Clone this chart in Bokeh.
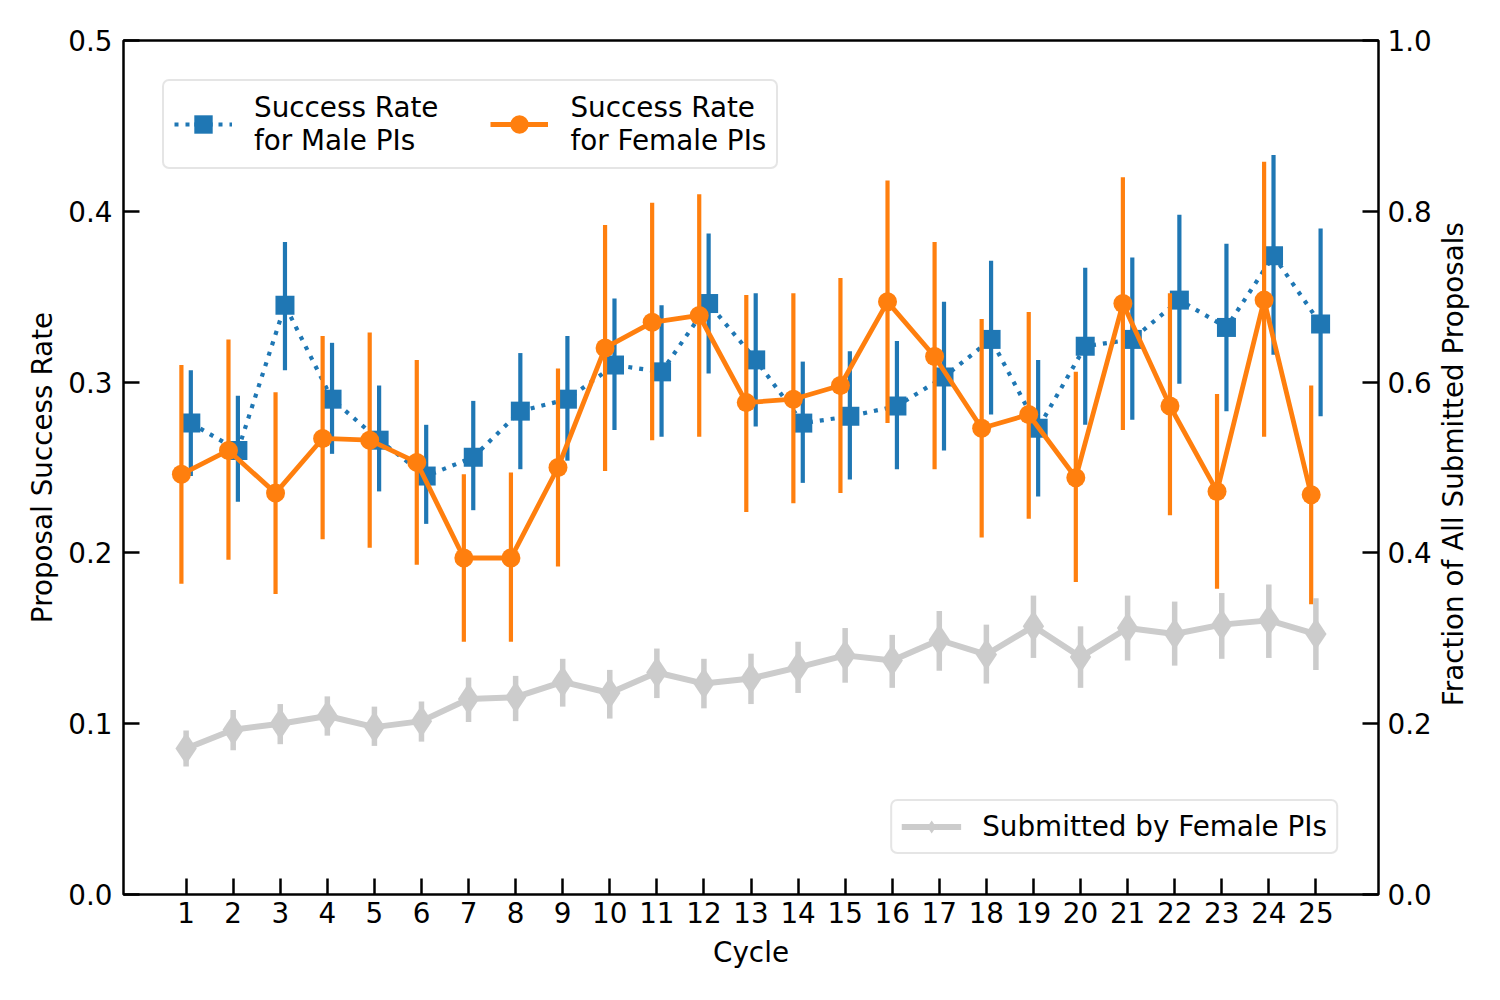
import numpy as np
from bokeh.plotting import figure
from bokeh.layouts import row
from bokeh.core.properties import value
from bokeh.models import (ColumnDataSource, Range1d, LinearAxis, FixedTicker,
                          PrintfTickFormatter, Legend, LegendItem)
from bokeh.embed import file_html
from bokeh.resources import INLINE

# ---------------- data ----------------
cycles = list(range(1, 26))

male_rate = [0.276, 0.260, 0.345, 0.290, 0.266, 0.245, 0.256, 0.283, 0.290, 0.310,
             0.306, 0.346, 0.313, 0.276, 0.280, 0.286, 0.303, 0.325, 0.273, 0.321,
             0.325, 0.348, 0.332, 0.374, 0.334]
male_hi = [0.307, 0.292, 0.382, 0.323, 0.298, 0.275, 0.289, 0.317, 0.327, 0.349,
           0.345, 0.387, 0.352, 0.312, 0.318, 0.324, 0.347, 0.371, 0.313, 0.367,
           0.373, 0.398, 0.381, 0.433, 0.390]
male_lo = [0.245, 0.230, 0.307, 0.258, 0.236, 0.217, 0.225, 0.249, 0.254, 0.272,
           0.268, 0.305, 0.274, 0.241, 0.243, 0.249, 0.260, 0.281, 0.233, 0.275,
           0.278, 0.299, 0.283, 0.316, 0.280]

female_rate = [0.246, 0.260, 0.235, 0.267, 0.266, 0.253, 0.197, 0.197, 0.250, 0.320,
               0.335, 0.339, 0.288, 0.290, 0.298, 0.347, 0.315, 0.273, 0.281, 0.244,
               0.346, 0.286, 0.236, 0.348, 0.234]
female_hi = [0.310, 0.325, 0.294, 0.327, 0.329, 0.313, 0.246, 0.247, 0.308, 0.392,
             0.405, 0.410, 0.351, 0.352, 0.361, 0.418, 0.382, 0.337, 0.341, 0.306,
             0.420, 0.352, 0.293, 0.429, 0.298]
female_lo = [0.182, 0.196, 0.176, 0.208, 0.203, 0.193, 0.148, 0.148, 0.192, 0.248,
             0.266, 0.268, 0.224, 0.229, 0.235, 0.276, 0.249, 0.209, 0.220, 0.183,
             0.272, 0.222, 0.179, 0.268, 0.170]

frac = [0.171, 0.193, 0.200, 0.209, 0.196, 0.203, 0.229, 0.231, 0.249, 0.236,
        0.260, 0.247, 0.253, 0.266, 0.280, 0.274, 0.298, 0.281, 0.314, 0.278,
        0.312, 0.305, 0.316, 0.321, 0.305]
frac_hi = [0.192, 0.216, 0.223, 0.232, 0.220, 0.226, 0.254, 0.256, 0.276, 0.263,
           0.288, 0.276, 0.282, 0.296, 0.312, 0.304, 0.332, 0.316, 0.350, 0.314,
           0.350, 0.343, 0.353, 0.363, 0.347]
frac_lo = [0.150, 0.169, 0.176, 0.186, 0.174, 0.179, 0.202, 0.203, 0.220, 0.206,
           0.230, 0.218, 0.223, 0.236, 0.248, 0.242, 0.262, 0.247, 0.277, 0.242,
           0.274, 0.268, 0.276, 0.277, 0.263]

left_ticks = [0.0, 0.1, 0.2, 0.3, 0.4, 0.5]
right_ticks = [0.0, 0.2, 0.4, 0.6, 0.8, 1.0]

label_male = "Success Rate\nfor Male PIs"
label_female = "Success Rate\nfor Female PIs"
label_frac = "Submitted by Female PIs"
x_label = "Cycle"
y_label = "Proposal Success Rate"
y2_label = "Fraction of All Submitted Proposals"

# ---------------- style ----------------
BLUE = "#1f77b4"
ORANGE = "#ff7f0e"
GRAY = "#cccccc"
FONT = "DejaVu Sans"
FS = "27.8px"

x = np.array(cycles, dtype=float)
src_m = ColumnDataSource(dict(x=x + 0.1, y=male_rate, lo=male_lo, hi=male_hi))
src_f = ColumnDataSource(dict(x=x - 0.1, y=female_rate, lo=female_lo, hi=female_hi))
src_g = ColumnDataSource(dict(x=x, y=frac, lo=frac_lo, hi=frac_hi))

p = figure(width=1436, height=984, output_backend="svg", toolbar_location=None,
           x_range=Range1d(-0.33, 26.33), y_range=Range1d(0, 0.5),
           min_border_left=123, min_border_right=58, min_border_top=40,
           min_border_bottom=90)
p.extra_y_ranges = {"frac": Range1d(0, 1)}

p.grid.visible = False
p.outline_line_color = "black"
p.outline_line_width = 2.5
p.background_fill_color = "white"
p.border_fill_color = "white"

# male
p.segment(x0="x", y0="lo", x1="x", y1="hi", source=src_m, line_color=BLUE, line_width=4.2)
lm = p.line("x", "y", source=src_m, line_color=BLUE, line_width=4.2, line_dash="4 7")
dm = p.scatter("x", "y", source=src_m, marker="dash", angle=np.pi / 2, size=18,
               line_color=BLUE, line_width=4.2)
sm = p.scatter("x", "y", source=src_m, marker="square", size=19, fill_color=BLUE,
               line_color=BLUE, line_width=0)

# female
p.segment(x0="x", y0="lo", x1="x", y1="hi", source=src_f, line_color=ORANGE, line_width=4.2)
lf = p.line("x", "y", source=src_f, line_color=ORANGE, line_width=4.8)
df = p.scatter("x", "y", source=src_f, marker="dash", angle=np.pi / 2, size=18,
               line_color=ORANGE, line_width=4.2)
cf = p.scatter("x", "y", source=src_f, marker="circle", size=19, fill_color=ORANGE,
               line_color=ORANGE, line_width=0)

# gray fraction (right axis)
p.segment(x0="x", y0="lo", x1="x", y1="hi", source=src_g, line_color=GRAY, line_width=5.5,
          y_range_name="frac")
lg = p.line("x", "y", source=src_g, line_color=GRAY, line_width=6, y_range_name="frac")
dg = p.scatter("x", "y", source=src_g, marker="dash", angle=np.pi / 2, size=18,
               line_color=GRAY, line_width=5.5, y_range_name="frac")
mg = p.scatter("x", "y", source=src_g, marker="diamond", size=32, fill_color=GRAY,
               line_color=GRAY, line_width=0, y_range_name="frac")

# axes
p.xaxis.ticker = FixedTicker(ticks=cycles)
p.yaxis.ticker = FixedTicker(ticks=left_ticks)
p.yaxis.formatter = PrintfTickFormatter(format="%.1f")
p.xaxis.axis_label = x_label
p.yaxis.axis_label = y_label

ax2 = LinearAxis(y_range_name="frac", ticker=FixedTicker(ticks=right_ticks),
                 formatter=PrintfTickFormatter(format="%.1f"))
p.add_layout(ax2, "right")

for ax in [p.xaxis[0], p.yaxis[0], ax2]:
    ax.axis_line_color = None
    ax.major_tick_in = 16
    ax.major_tick_out = 0
    ax.major_tick_line_width = 2.5
    ax.major_tick_line_color = "black"
    ax.minor_tick_line_color = None
    ax.major_label_text_font = FONT
    ax.major_label_text_font_size = FS
    ax.major_label_text_color = "black"
    ax.axis_label_text_font = FONT
    ax.axis_label_text_font_size = FS
    ax.axis_label_text_font_style = "normal"
    ax.axis_label_text_color = "black"

p.xaxis.major_label_standoff = 7
p.xaxis.axis_label_standoff = 10
p.yaxis.major_label_standoff = 11
p.yaxis.axis_label_standoff = 6
ax2.major_label_standoff = 9

# legends
leg1 = Legend(items=[LegendItem(label=label_male, renderers=[lm, dm, sm]),
                     LegendItem(label=label_female, renderers=[lf, df, cf])],
              orientation="horizontal", location="top_left", margin=39,
              glyph_width=58, glyph_height=46, label_standoff=22, spacing=52,
              padding=10)
leg2 = Legend(items=[LegendItem(label=label_frac, renderers=[lg, dg, mg])],
              location="bottom_right", margin=40,
              glyph_width=60, glyph_height=33, label_standoff=21, padding=9)
for lg_ in (leg1, leg2):
    lg_.label_text_font = FONT
    lg_.label_text_font_size = FS
    lg_.label_text_color = "black"
    lg_.label_text_line_height = 1.1
    lg_.border_line_color = GRAY
    lg_.border_line_width = 2.8
    lg_.border_radius = 7
    lg_.background_fill_color = "white"
    lg_.background_fill_alpha = 0.8
    p.add_layout(lg_)

# narrow strip to the right carrying the right-axis title (reads bottom-to-top)
p2 = figure(width=48, height=984, output_backend="svg", toolbar_location=None,
            x_range=Range1d(0, 1), y_range=Range1d(0, 1),
            x_axis_type=None, y_axis_type=None, min_border=0)
p2.grid.visible = False
p2.outline_line_color = None
p2.background_fill_color = "white"
p2.border_fill_color = "white"
p2.text(x=[0.354], y=[0.504], text=[y2_label], angle=np.pi / 2,
        text_align="center", text_baseline="middle",
        text_font=value(FONT), text_font_size=value(FS), text_color="black")

layout = row(p, p2, spacing=0)
open("out.html", "w").write(file_html(layout, INLINE))
